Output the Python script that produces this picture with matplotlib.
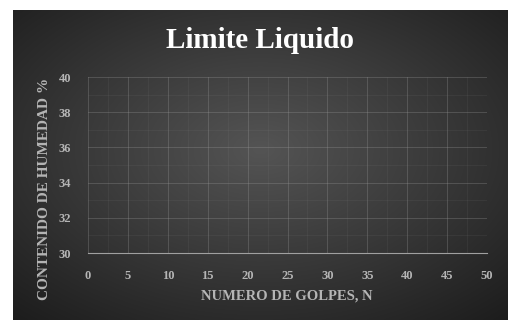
import matplotlib
matplotlib.use("Agg")
import matplotlib.pyplot as plt
import numpy as np
from matplotlib.ticker import MultipleLocator

# datos del grafico (vacio en la referencia)
golpes = []
humedad = []
x_ticks = [0, 5, 10, 15, 20, 25, 30, 35, 40, 45, 50]
y_ticks = [30, 32, 34, 36, 38, 40]
titulo = "Limite Liquido"
x_label = "NUMERO DE GOLPES, N"
y_label = "CONTENIDO DE HUMEDAD %"

fig = plt.figure(figsize=(5.08, 3.2), dpi=100)
fig.patch.set_facecolor("white")

# fondo oscuro con degradado radial
bg = fig.add_axes([13 / 508, 0, 1 - 13 / 508, 310 / 320])
yy, xx = np.mgrid[-1:1:200j, -1:1:300j]
r = np.sqrt(xx ** 2 + (yy + 0.1) ** 2)
grad = np.clip(1 - r / 1.5, 0, 1)
gray = 0.11 + 0.22 * grad
img = np.dstack([gray, gray, gray])
bg.imshow(img, aspect="auto", extent=[0, 1, 0, 1], interpolation="bicubic")
bg.axis("off")

ax = fig.add_axes([88 / 508, 1 - 253 / 320, 399 / 508, 176 / 320])
ax.patch.set_alpha(0)
ax.plot(golpes, humedad, color="#dddddd")
ax.set_xlim(0, 50)
ax.set_ylim(30, 40)
ax.set_xticks(x_ticks)
ax.set_yticks(y_ticks)
ax.xaxis.set_minor_locator(MultipleLocator(2.5))
ax.yaxis.set_minor_locator(MultipleLocator(1))
ax.grid(True, which="major", color="#9a9a9a", lw=0.6, alpha=0.35)
ax.grid(True, which="minor", color="#8a8a8a", lw=0.4, alpha=0.18)

for s in ["top", "right", "left"]:
    ax.spines[s].set_visible(False)
ax.spines["bottom"].set_color("#a0a0a0")
ax.spines["bottom"].set_linewidth(0.8)

serif = "Liberation Serif"
ax.tick_params(axis="both", which="both", length=0, colors="#b5b5b5",
               labelsize=9)
ax.tick_params(axis="x", pad=12)
ax.tick_params(axis="y", pad=12)
for lab in ax.get_xticklabels() + ax.get_yticklabels():
    lab.set_fontfamily(serif)
    lab.set_fontweight("bold")

fig.text(260 / 508, 1 - 41 / 320, titulo, ha="center", va="center",
         color="white", fontsize=21, fontweight="bold", family=serif)
fig.text(287 / 508, 1 - 296 / 320, x_label, ha="center", va="center",
         color="#b5b5b5", fontsize=10.5, fontweight="bold", family=serif)
fig.text(45 / 508, 1 - 189 / 320, y_label, ha="center", va="center",
         rotation=90, color="#b5b5b5", fontsize=11, fontweight="bold",
         family=serif)

plt.savefig("out.png", dpi=100, facecolor=fig.get_facecolor())
plt.close()
